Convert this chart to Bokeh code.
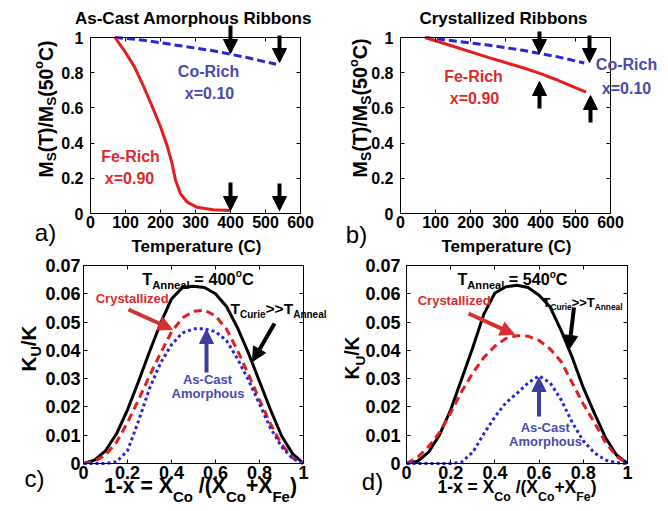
import math
from bokeh.plotting import figure
from bokeh.layouts import column, row
from bokeh.models import Range1d, FixedTicker, Label, Arrow, NormalHead, LinearAxis
from bokeh.embed import file_html
from bokeh.resources import INLINE

# ---------------- data ----------------
temp_ticks = [0, 100, 200, 300, 400, 500, 600]
temp_tick_labels = ["0", "100", "200", "300", "400", "500", "600"]
ms_ticks = [0, 0.2, 0.4, 0.6, 0.8, 1]
ms_tick_labels = ["0", "0.2", "0.4", "0.6", "0.8", "1"]
comp_ticks = [0, 0.2, 0.4, 0.6, 0.8, 1]
comp_tick_labels = ["0", "0.2", "0.4", "0.6", "0.8", "1"]
ku_ticks = [0, 0.01, 0.02, 0.03, 0.04, 0.05, 0.06, 0.07]
ku_tick_labels = ["0", "0.01", "0.02", "0.03", "0.04", "0.05", "0.06", "0.07"]

# a) as-cast amorphous ribbons: Ms(T)/Ms(50C)
a_fe_T = [70, 95, 125, 150, 180, 200, 220, 233, 243, 257, 276, 304, 350, 400]
a_fe_M = [1.0, 0.93, 0.836, 0.73, 0.59, 0.493, 0.379, 0.284, 0.189, 0.112, 0.065, 0.036, 0.021, 0.017]
a_co_T = [70, 150, 250, 350, 400, 450, 530]
a_co_M = [1.0, 0.985, 0.955, 0.925, 0.905, 0.885, 0.848]
# b) crystallized ribbons
b_fe_T = [70, 150, 250, 350, 400, 450, 530]
b_fe_M = [1.0, 0.95, 0.887, 0.828, 0.795, 0.757, 0.69]
b_co_T = [70, 150, 250, 350, 400, 450, 525]
b_co_M = [1.0, 0.982, 0.957, 0.927, 0.908, 0.89, 0.855]

# c), d) Ku/K versus composition 1-x
comp_x = [0, 0.05, 0.1, 0.15, 0.2, 0.25, 0.3, 0.35, 0.4, 0.45, 0.5,
          0.55, 0.6, 0.65, 0.7, 0.75, 0.8, 0.85, 0.9, 0.95, 1.0]
c_limit = [0, 0.0012, 0.0045, 0.0105, 0.019, 0.029, 0.0395, 0.0495, 0.0582, 0.0622, 0.0627,
           0.0622, 0.06, 0.0555, 0.048, 0.039, 0.029, 0.019, 0.0098, 0.0035, 0]
c_cryst = [0, 0.0008, 0.003, 0.0075, 0.0145, 0.0225, 0.031, 0.039, 0.0465, 0.0515, 0.0538,
           0.0542, 0.0522, 0.0475, 0.04, 0.0315, 0.0225, 0.014, 0.0068, 0.002, 0]
c_amorph = [0, 0, 0, 0.0006, 0.0045, 0.015, 0.0265, 0.0355, 0.042, 0.0462, 0.0476,
            0.0476, 0.0466, 0.0435, 0.037, 0.0295, 0.021, 0.0125, 0.006, 0.0017, 0]
d_limit = [0, 0.0008, 0.004, 0.0102, 0.019, 0.03, 0.041, 0.0528, 0.0603, 0.0625, 0.063,
           0.0622, 0.0595, 0.0553, 0.047, 0.0375, 0.0268, 0.0178, 0.0092, 0.003, 0]
d_cryst = [0, 0.0022, 0.006, 0.011, 0.018, 0.0255, 0.032, 0.0375, 0.0415, 0.0442, 0.0452,
           0.045, 0.0435, 0.0405, 0.036, 0.0285, 0.021, 0.0145, 0.0075, 0.0025, 0]
d_amorph = [0, 0, 0, 0, 0, 0.0005, 0.004, 0.0105, 0.0165, 0.0215, 0.0248,
            0.0285, 0.031, 0.0285, 0.0225, 0.0145, 0.008, 0.0038, 0.0012, 0.0003, 0]

# ---------------- style ----------------
FONT = "Liberation Sans"
RED_LINE = "#e41e1e"
BLUE_LINE = "#2626d6"
RED_TEXT = "#dc2a2a"
BLUE_TEXT = "#4a4aae"
BLUE_ARROW = "#3e3ea0"
RED_ARROW = "#d63030"
BASE_FIX = 0.24   # correction of the rendered alphabetic baseline, in em

# advance widths of Liberation Sans Bold (Arial metrics), per 1000 em
_W = {" ": 278, "(": 333, ")": 333, "+": 584, "-": 333, ".": 278, "/": 278, "=": 584,
      ">": 584, "A": 722, "C": 722, "F": 611, "K": 722, "M": 833, "R": 722, "S": 667,
      "T": 611, "U": 722, "X": 667, "a": 556, "b": 611, "c": 556, "d": 611, "e": 556,
      "h": 611, "i": 278, "l": 278, "m": 889, "n": 611, "o": 611, "p": 611, "r": 389,
      "s": 556, "t": 333, "u": 611, "x": 556, "y": 556, "z": 500}


def tw(s, size):
    return sum(_W.get(ch, 556) for ch in s) * size / 1000.0


def style_axis(ax, ticks, labels, size, standoff, loc, bounds, show=True):
    ax.fixed_location = loc
    ax.bounds = bounds
    ax.ticker = FixedTicker(ticks=ticks)
    ax.major_label_overrides = dict(zip(ticks, labels if show else [""] * len(ticks)))
    ax.major_tick_in = 4
    ax.major_tick_out = 0
    ax.minor_tick_line_color = None
    ax.axis_line_color = "black"
    ax.axis_line_width = 1
    ax.major_tick_line_color = "black"
    ax.major_label_text_font = FONT
    ax.major_label_text_font_style = "bold"
    ax.major_label_text_font_size = size if show else "1px"
    ax.major_label_text_color = "black"
    ax.major_label_standoff = standoff if show else 0


class Panel:
    """One sub-plot.  Its frame fills the whole canvas; the axes box is drawn
    with fixed-location axes so that texts and arrows outside the box are not cut."""

    def __init__(self, ox, oy, w, h, L, T, R, B, xr, yr,
                 xticks, xlabels, yticks, ylabels, tsize, xstand, ystand):
        kx = (R - L) / (xr[1] - xr[0])
        ky = (B - T) / (yr[1] - yr[0])
        xs = xr[0] - (L - ox) / kx
        xe = xr[0] + (ox + w - L) / kx
        ys = yr[0] - (oy + h - B) / ky
        ye = yr[0] + (B - oy) / ky
        p = figure(width=w, height=h, x_range=Range1d(xs, xe), y_range=Range1d(ys, ye),
                   output_backend="svg", toolbar_location=None, title=None,
                   min_border_left=0, min_border_right=0,
                   min_border_top=0, min_border_bottom=0)
        p.xgrid.visible = False
        p.ygrid.visible = False
        p.outline_line_color = None
        p.background_fill_color = "white"
        p.border_fill_color = "white"
        style_axis(p.xaxis[0], xticks, xlabels, tsize, xstand, yr[0], xr)
        style_axis(p.yaxis[0], yticks, ylabels, tsize, ystand, xr[0], yr)
        top = LinearAxis()
        style_axis(top, xticks, xlabels, tsize, 0, yr[1], xr, show=False)
        p.add_layout(top, "above")
        right = LinearAxis()
        style_axis(right, yticks, ylabels, tsize, 0, xr[1], yr, show=False)
        p.add_layout(right, "right")
        self.p = p
        self.ox, self.oy, self.w, self.h = ox, oy, w, h
        self.xs, self.xe, self.ys, self.ye = xs, xe, ys, ye

    def dx(self, X):
        return self.xs + (X - self.ox) / self.w * (self.xe - self.xs)

    def dy(self, Y):
        return self.ye - (Y - self.oy) / self.h * (self.ye - self.ys)

    def label(self, X, Y, s, size, color="black", align="left", bold=True, vertical=False):
        if vertical:
            X = X - BASE_FIX * size
        else:
            Y = Y - BASE_FIX * size
        self.p.add_layout(Label(x=self.dx(X), y=self.dy(Y), text=s, text_font=FONT,
                                text_font_size=f"{size:.2f}px",
                                text_font_style="bold" if bold else "normal",
                                text_color=color, text_align=align,
                                text_baseline="alphabetic",
                                angle=math.pi / 2 if vertical else 0.0))

    def rich(self, pieces, X, Y, color="black", target=None, center=False, vertical=False):
        widths = [tw(t, s) for t, s, _ in pieces]
        total = sum(widths)
        f = (target / total) if target else 1.0
        cur = (Y + total * f / 2) if (vertical and center) else \
              (X - total * f / 2) if center else (Y if vertical else X)
        for (t, s, sh), w in zip(pieces, widths):
            body = t.lstrip(" ")
            lead = tw(t[:len(t) - len(body)], s) * f   # SVG drops leading blanks
            if vertical:
                cur -= lead
                self.label(X - sh * f, cur, body, s * f, color, vertical=True)
                cur -= w * f - lead
            else:
                cur += lead
                self.label(cur, Y - sh * f, body, s * f, color)
                cur += w * f - lead

    def arrow(self, X1, Y1, X2, Y2, color="black", width=4, head=14):
        self.p.add_layout(Arrow(end=NormalHead(size=head, fill_color=color, line_color=color),
                                x_start=self.dx(X1), y_start=self.dy(Y1),
                                x_end=self.dx(X2), y_end=self.dy(Y2),
                                line_color=color, line_width=width))


ms_label = [("M", 17, 0), ("S", 12, -4), ("(T)/M", 17, 0), ("S", 12, -4),
            ("(50", 17, 0), ("o", 11, 7), ("C)", 17, 0)]
ku_label = [("K", 20, 0), ("U", 14, -6), ("/K", 20, 0)]
comp_label = [("1-x = X", 17, 0), ("Co", 12, -8), (" /(X", 17, 0), ("Co", 12, -8),
              ("+X", 17, 0), ("Fe", 12, -8), (")", 17, 0)]


def anneal(temp):
    return [("T", 16, 0), ("Anneal", 11, -5), (" = " + temp, 16, 0), ("o", 10, 6), ("C", 16, 0)]


curie = [("T", 14, 0), ("Curie", 9, -4), (">>T", 14, 0), ("Anneal", 9, -4)]

# ---------------- panel a ----------------
pa = Panel(0, 0, 334, 255, 90, 37, 300, 213, (0, 600), (0, 1),
           temp_ticks, temp_tick_labels, ms_ticks, ms_tick_labels, "16px", 2, 7)
pa.p.line(a_co_T, a_co_M, line_color=BLUE_LINE, line_width=3, line_dash="8 4")
pa.p.line(a_fe_T, a_fe_M, line_color=RED_LINE, line_width=3)
pa.label(193, 22, "As-Cast Amorphous Ribbons", 17, align="center")
pa.label(208, 75, "Co-Rich", 16, BLUE_TEXT, "center")
pa.label(209, 97, "x=0.10", 16, BLUE_TEXT, "center")
pa.label(130, 160, "Fe-Rich", 16, RED_TEXT, "center")
pa.label(129, 182, "x=0.90", 16, RED_TEXT, "center")
pa.label(45, 238, "a)", 24, align="center", bold=False)
pa.label(196, 250, "Temperature (C)", 17, align="center")
pa.rich(ms_label, 50, 177, target=137, vertical=True)
pa.arrow(230, 25, 230, 53)
pa.arrow(279, 35, 279, 62)
pa.arrow(230, 182, 230, 210)
pa.arrow(279, 183, 279, 210)

# ---------------- panel b ----------------
pb = Panel(334, 0, 330, 255, 400, 37, 610, 213, (0, 600), (0, 1),
           temp_ticks, temp_tick_labels, ms_ticks, ms_tick_labels, "16px", 2, 7)
pb.p.line(b_co_T, b_co_M, line_color=BLUE_LINE, line_width=3, line_dash="8 4")
pb.p.line(b_fe_T, b_fe_M, line_color=RED_LINE, line_width=3)
pb.label(503, 22, "Crystallized Ribbons", 17, align="center")
pb.label(626, 68, "Co-Rich", 16, BLUE_TEXT, "center")
pb.label(626, 92, "x=0.10", 16, BLUE_TEXT, "center")
pb.label(473, 80, "Fe-Rich", 16, RED_TEXT, "center")
pb.label(474, 102, "x=0.90", 16, RED_TEXT, "center")
pb.label(356, 240, "b)", 24, align="center", bold=False)
pb.label(506, 250, "Temperature (C)", 17, align="center")
pb.rich(ms_label, 364, 177, target=139, vertical=True)
pb.arrow(539, 31, 539, 53)
pb.arrow(589, 35, 589, 62)
pb.arrow(539, 108, 539, 81)
pb.arrow(590, 122, 590, 95)

# ---------------- panel c ----------------
pc = Panel(0, 255, 334, 250, 83, 265, 303, 463, (0, 1), (0, 0.07),
           comp_ticks, comp_tick_labels, ku_ticks, ku_tick_labels, "18px", 2, 3)
pc.p.line(comp_x, c_limit, line_color="black", line_width=3)
pc.p.line(comp_x, c_cryst, line_color=RED_LINE, line_width=3, line_dash="8 5")
pc.p.line(comp_x, c_amorph, line_color=BLUE_LINE, line_width=3, line_dash="3 3")
pc.rich(anneal("400"), 141.7, 282, target=111.6)
pc.label(131.7, 301, "Crystallized", 13, RED_TEXT, "center")
pc.rich(curie, 230, 312, target=96)
pc.label(207, 382, "As-Cast", 13, BLUE_TEXT, "center")
pc.label(207.5, 396, "Amorphous", 13, BLUE_TEXT, "center")
pc.label(34, 484, "c)", 24, align="center", bold=False)
pc.rich(comp_label, 200, 490, target=193, center=True)
pc.rich(ku_label, 33, 371, target=46, vertical=True)
pc.arrow(128, 309, 172, 329, RED_ARROW)
pc.arrow(206, 372, 206, 329, BLUE_ARROW)
pc.arrow(274, 323, 252, 361, "black")

# ---------------- panel d ----------------
pd = Panel(334, 255, 330, 250, 406, 265, 627, 463, (0, 1), (0, 0.07),
           comp_ticks, comp_tick_labels, ku_ticks, ku_tick_labels, "18px", 2, 6)
pd.p.line(comp_x, d_limit, line_color="black", line_width=3)
pd.p.line(comp_x, d_cryst, line_color=RED_LINE, line_width=3, line_dash="8 5")
pd.p.line(comp_x, d_amorph, line_color=BLUE_LINE, line_width=3, line_dash="3 3")
pd.rich(anneal("540"), 457, 282, target=110)
pd.label(453.7, 303, "Crystallized", 13, RED_TEXT, "center")
pd.rich(curie, 542, 305, target=80)
pd.label(544.7, 430, "As-Cast", 13, BLUE_TEXT, "center")
pd.label(545, 444, "Amorphous", 13, BLUE_TEXT, "center")
pd.label(372, 487, "d)", 24, align="center", bold=False)
pd.rich(comp_label, 516.5, 491, target=159, center=True)
pd.rich(ku_label, 357, 379, target=43, vertical=True)
pd.arrow(468, 313, 514, 334, RED_ARROW)
pd.arrow(538.5, 416, 538.5, 377, BLUE_ARROW)
pd.arrow(573.5, 307, 568.5, 349, "black")

layout = column(row(pa.p, pb.p), row(pc.p, pd.p))
open("out.html", "w").write(file_html(layout, INLINE))
